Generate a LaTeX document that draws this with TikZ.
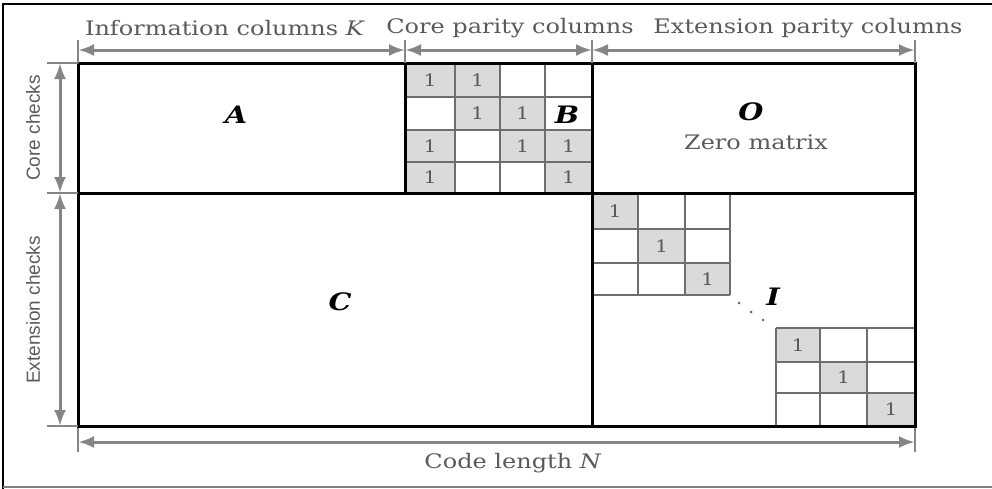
\documentclass[tikz,border=0pt]{standalone}
\usepackage{fontspec}
\setmainfont{DejaVu Serif}[FakeStretch=1.2]
\setsansfont{Liberation Sans}
\usetikzlibrary{arrows.meta}
\definecolor{dimgray}{HTML}{858585}
\definecolor{labelgray}{HTML}{5A5A5A}
\definecolor{cellfill}{HTML}{DADADA}
\definecolor{gridgray}{HTML}{6E6E6E}
\begin{document}
\begin{tikzpicture}[x=1pt,y=-1pt,
  block/.style={draw=black,line width=3pt},
  gridline/.style={draw=gridgray,line width=1.5pt},
  onecell/.style={fill=cellfill},
  dimline/.style={draw=dimgray,line width=3pt,{Latex[length=16pt,width=12pt]}-{Latex[length=16pt,width=12pt]}},
  dimtick/.style={draw=dimgray,line width=1.4pt},
  dimlabel/.style={text=labelgray,font=\fontsize{20}{20}\selectfont,inner sep=0pt},
  sidelabel/.style={text=labelgray,font=\sffamily\fontsize{19}{19}\selectfont,inner sep=0pt,rotate=90},
  onelabel/.style={text=labelgray,font=\fontsize{17}{17}\selectfont,inner sep=0pt},
  blocklabel/.style={text=black,font=\bfseries\itshape\fontsize{24}{24}\selectfont,inner sep=0pt},
  dotmark/.style={fill=gridgray,draw=none}
]
\useasboundingbox (0,0) rectangle (992,488);

% outer frame
\draw[line width=2.4pt] (3,495) -- (3,4) -- (1000,4);
\draw[gray,line width=1.4pt] (3,487) -- (1000,487);

% shaded entries of B
\foreach \xa/\xb/\ya/\yb/\nm in {405/455/63/97/b11, 455/500/63/97/b12,
    455/500/97/130/b22, 500/545/97/130/b23,
    405/455/130/162/b31, 500/545/130/162/b33, 545/592/130/162/b34,
    405/455/162/193/b41, 545/592/162/193/b44}{
  \fill[onecell] (\xa,\ya) rectangle (\xb,\yb);
  \node[onelabel] (\nm) at ({(\xa+\xb)/2},{(\ya+\yb)/2}) {1};
}
% grid of B
\foreach \x in {455,500,545} \draw[gridline] (\x,63) -- (\x,193);
\foreach \y in {97,130,162} \draw[gridline] (405,\y) -- (592,\y);

% identity blocks
\foreach \xa/\xb/\ya/\yb/\nm in {592/638/193/229/ia1, 638/685/229/263/ia2, 685/730/263/295/ia3,
    776/820/328/362/ib1, 820/867/362/393/ib2, 867/915/393/426/ib3}{
  \fill[onecell] (\xa,\ya) rectangle (\xb,\yb);
  \node[onelabel] (\nm) at ({(\xa+\xb)/2},{(\ya+\yb)/2}) {1};
}
\foreach \x in {638,685,730} \draw[gridline] (\x,193) -- (\x,295);
\foreach \y in {229,263,295} \draw[gridline] (592,\y) -- (730,\y);
\foreach \x in {776,820,867} \draw[gridline] (\x,328) -- (\x,426);
\foreach \y in {328,362,393} \draw[gridline] (776,\y) -- (915,\y);

% diagonal dots
\fill[dotmark] (739,303) circle (1.5pt);
\fill[dotmark] (751,312) circle (1.5pt);
\fill[dotmark] (763,320) circle (1.5pt);

% block outlines
\draw[block] (78,63) rectangle (915,426);
\draw[block] (405,63) -- (405,193);
\draw[block] (592,63) -- (592,426);
\draw[block] (78,193) -- (915,193);

% block labels
\node[blocklabel] (A) at (236,115) {A};
\node[blocklabel] (B) at (567,115) {B};
\node[blocklabel] (C) at (340,302) {C};
\node[blocklabel] (O) at (751,112) {O};
\node[dimlabel] (zero) at (756,142) {Zero matrix};
\node[blocklabel] (I) at (773,297) {I};

% top dimension marks
\foreach \x/\nm in {78/ta, 405/tb, 592/tc, 915/td}{
  \coordinate (\nm) at (\x,50);
  \draw[dimtick] (\x,40) -- (\x,63);
}
\draw[dimline] (ta) -- (tb);
\draw[dimline] (tb) -- (tc);
\draw[dimline] (tc) -- (td);
\node[dimlabel] (info) at (225,28) {Information columns \textit{K}};
\node[dimlabel] (core) at (510,28) {Core parity columns};
\node[dimlabel] (ext) at (808,28) {Extension parity columns};

% left dimension marks
\foreach \y/\nm in {63/la, 193/lb, 426/lc}{
  \coordinate (\nm) at (60,\y);
  \draw[dimtick] (47,\y) -- (78,\y);
}
\draw[dimline] (la) -- (lb);
\draw[dimline] (lb) -- (lc);
\node[sidelabel] (corechk) at (33,128) {Core checks};
\node[sidelabel] (extchk) at (33,310) {Extension checks};

% bottom dimension mark
\coordinate (ba) at (78,442);
\coordinate (bb) at (915,442);
\draw[dimtick] (78,428) -- (78,452);
\draw[dimtick] (915,428) -- (915,452);
\draw[dimline] (ba) -- (bb);
\node[dimlabel] (codelen) at (513,463) {Code length \textit{N}};
\end{tikzpicture}
\end{document}
